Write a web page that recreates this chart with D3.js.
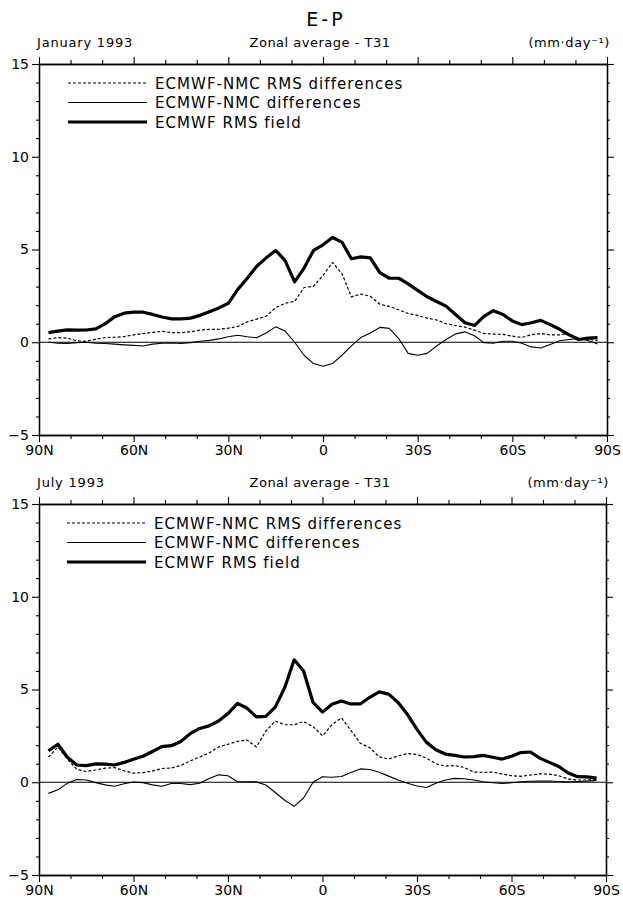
<!DOCTYPE html>
<html>
<head>
<meta charset="utf-8">
<script src="https://cdn.jsdelivr.net/npm/d3@7"></script>
<style>
  html, body { margin: 0; padding: 0; background: #fff; }
  svg { display: block; }
  text { font-family: "DejaVu Sans", "Liberation Sans", sans-serif; fill: #000; }
</style>
</head>
<body>
<svg id="chart" width="623" height="898"></svg>
<script>
// ---- data ----
const lats = [87,84,81,78,75,72,69,66,63,60,57,54,51,48,45,42,39,36,33,30,27,24,21,18,15,12,9,6,3,0,
  -3,-6,-9,-12,-15,-18,-21,-24,-27,-30,-33,-36,-39,-42,-45,-48,-51,-54,-57,-60,-63,-66,-69,-72,-75,-78,-81,-84,-87];

// January 1993
const janRms = [0.52,0.60,0.67,0.65,0.66,0.72,1.00,1.38,1.57,1.62,1.62,1.50,1.36,1.26,1.26,1.30,1.45,1.65,1.85,2.10,
  2.85,3.45,4.10,4.55,4.95,4.40,3.25,4.00,4.95,5.25,5.65,5.40,4.50,4.60,4.55,3.75,3.45,3.45,3.15,2.80,
  2.45,2.20,1.95,1.50,1.05,0.90,1.40,1.70,1.50,1.15,0.95,1.05,1.18,0.95,0.70,0.40,0.15,0.22,0.25];
const janRmsDiff = [0.18,0.25,0.22,0.08,0.05,0.17,0.25,0.27,0.30,0.40,0.47,0.53,0.59,0.52,0.52,0.56,0.66,0.69,0.70,0.76,
  0.85,1.10,1.25,1.40,1.87,2.10,2.20,2.95,3.02,3.60,4.30,3.70,2.45,2.60,2.48,2.05,1.93,1.75,1.55,1.45,
  1.30,1.20,1.00,0.90,0.82,0.65,0.47,0.44,0.42,0.33,0.26,0.40,0.47,0.40,0.40,0.47,0.20,0.15,0.10];
const janDiff = [0.00,-0.05,-0.06,-0.02,0.00,-0.05,-0.07,-0.10,-0.14,-0.17,-0.20,-0.10,-0.05,-0.04,-0.07,-0.02,0.05,0.10,0.18,0.30,
  0.38,0.30,0.24,0.50,0.83,0.60,0.00,-0.70,-1.15,-1.29,-1.15,-0.70,-0.20,0.25,0.50,0.80,0.75,0.20,-0.60,-0.70,
  -0.60,-0.20,0.15,0.45,0.56,0.35,-0.02,-0.05,0.05,0.05,-0.05,-0.25,-0.31,-0.12,0.08,0.15,0.20,0.10,-0.10];

// July 1993
const julRms = [1.70,2.05,1.35,0.93,0.90,0.99,0.98,0.93,1.07,1.24,1.40,1.66,1.92,1.97,2.20,2.62,2.90,3.04,3.30,3.70,
  4.25,4.00,3.52,3.55,4.05,5.10,6.60,6.00,4.30,3.78,4.20,4.38,4.22,4.22,4.58,4.87,4.75,4.30,3.65,2.85,
  2.15,1.75,1.52,1.45,1.36,1.38,1.45,1.35,1.25,1.40,1.60,1.63,1.30,1.07,0.85,0.50,0.30,0.29,0.22];
const julRmsDiff = [1.35,1.90,1.25,0.70,0.58,0.66,0.76,0.79,0.62,0.49,0.52,0.60,0.74,0.77,0.90,1.15,1.36,1.58,1.90,2.05,
  2.20,2.28,1.90,2.75,3.30,3.10,3.10,3.27,3.00,2.50,3.10,3.47,2.80,2.10,1.86,1.37,1.25,1.42,1.55,1.50,
  1.30,1.00,0.87,0.90,0.80,0.55,0.53,0.55,0.45,0.35,0.32,0.39,0.45,0.44,0.35,0.17,0.12,0.12,0.15];
const julDiff = [-0.60,-0.40,-0.06,0.15,0.12,-0.02,-0.14,-0.22,-0.08,0.01,-0.02,-0.14,-0.22,-0.07,-0.07,-0.13,-0.05,0.20,0.40,0.35,
  0.03,0.02,0.02,-0.15,-0.55,-0.97,-1.30,-0.85,0.00,0.30,0.27,0.31,0.52,0.72,0.69,0.54,0.33,0.12,-0.05,-0.20,
  -0.28,-0.05,0.12,0.21,0.19,0.12,0.03,-0.03,-0.07,-0.03,0.02,0.05,0.06,0.07,0.04,0.02,0.04,0.06,0.10];

const xTicks = [90,60,30,0,-30,-60,-90];
const xMinor = [80,70,50,40,20,10,-10,-20,-40,-50,-70,-80];
const yTicks = [-5,0,5,10,15];
const yMinor = [-4,-3,-2,-1,1,2,3,4,6,7,8,9,11,12,13,14];
const legendLabels = ["ECMWF-NMC RMS differences","ECMWF-NMC differences","ECMWF RMS field"];
const title = "E-P";
const subtitle = "Zonal average - T31";
const units = "(mm\u00b7day\u207b\u00b9)";

const panels = [
  {month: "January 1993", rms: janRms, rmsDiff: janRmsDiff, diff: janDiff, top: 64, bottom: 435, left: 39, right: 607, legX: 68, legY: 83},
  {month: "July 1993", rms: julRms, rmsDiff: julRmsDiff, diff: julDiff, top: 504, bottom: 875, left: 39, right: 606, legX: 67, legY: 523}
];

// ---- drawing ----
const svg = d3.select("#chart");
svg.append("text").attr("x", 326).attr("y", 26).attr("text-anchor", "middle")
  .attr("font-size", 19).attr("letter-spacing", 3).text(title);

const latFmt = d => d === 0 ? "0" : (d > 0 ? d + "N" : (-d) + "S");

panels.forEach(p => {
  const x = d3.scaleLinear().domain([90, -90]).range([p.left, p.right]);
  const y = d3.scaleLinear().domain([-5, 15]).range([p.bottom, p.top]);
  const g = svg.append("g");

  // header
  const hy = p.top - 17;
  g.append("text").attr("x", p.left - 2).attr("y", hy).attr("font-size", 13).attr("letter-spacing", 0.8).text(p.month);
  g.append("text").attr("x", 320).attr("y", hy).attr("text-anchor", "middle").attr("font-size", 13).attr("letter-spacing", 0.5).text(subtitle);
  g.append("text").attr("x", p.right + 3).attr("y", hy).attr("text-anchor", "end").attr("font-size", 13).attr("letter-spacing", 0.6).text(units);

  // axes
  const styleAxis = sel => {
    sel.select(".domain").attr("stroke", "#000").attr("stroke-width", 1.3);
    sel.selectAll(".tick line").attr("stroke", "#000").attr("stroke-width", 1.1);
    sel.selectAll(".tick text").attr("font-size", 14).attr("font-family", "DejaVu Sans, sans-serif");
  };
  // bottom
  g.append("g").attr("transform", `translate(0,${p.bottom})`)
    .call(d3.axisBottom(x).tickValues(xTicks).tickSize(7).tickSizeOuter(0).tickPadding(3).tickFormat(latFmt))
    .call(styleAxis);
  g.append("g").attr("transform", `translate(0,${p.bottom})`)
    .call(d3.axisBottom(x).tickValues(xMinor).tickSize(4).tickSizeOuter(0).tickFormat(""))
    .call(styleAxis);
  // top
  g.append("g").attr("transform", `translate(0,${p.top})`)
    .call(d3.axisTop(x).tickValues(xTicks).tickSize(7).tickSizeOuter(0).tickFormat(""))
    .call(styleAxis);
  g.append("g").attr("transform", `translate(0,${p.top})`)
    .call(d3.axisTop(x).tickValues(xMinor).tickSize(4).tickSizeOuter(0).tickFormat(""))
    .call(styleAxis);
  // left
  g.append("g").attr("transform", `translate(${p.left},0)`)
    .call(d3.axisLeft(y).tickValues(yTicks).tickSize(7).tickSizeOuter(0).tickPadding(3).tickFormat(d3.format("d")))
    .call(styleAxis);
  g.append("g").attr("transform", `translate(${p.left},0)`)
    .call(d3.axisLeft(y).tickValues(yMinor).tickSize(3).tickSizeOuter(0).tickFormat(""))
    .call(styleAxis);
  // right
  g.append("g").attr("transform", `translate(${p.right},0)`)
    .call(d3.axisRight(y).tickValues(yTicks).tickSize(7).tickSizeOuter(0).tickFormat(""))
    .call(styleAxis);
  g.append("g").attr("transform", `translate(${p.right},0)`)
    .call(d3.axisRight(y).tickValues(yMinor).tickSize(3).tickSizeOuter(0).tickFormat(""))
    .call(styleAxis);

  // zero line
  g.append("line").attr("x1", p.left).attr("x2", p.right).attr("y1", y(0)).attr("y2", y(0))
    .attr("stroke", "#000").attr("stroke-width", 1.2);

  const line = d3.line().x((d, i) => x(lats[i])).y(d => y(d));
  const series = [
    {vals: p.rmsDiff, w: 1.2, dash: "3,2"},
    {vals: p.diff, w: 1.1, dash: null},
    {vals: p.rms, w: 3.2, dash: null}
  ];
  series.forEach(s => {
    g.append("path").datum(s.vals).attr("d", line).attr("fill", "none")
      .attr("stroke", "#000").attr("stroke-width", s.w)
      .attr("stroke-linejoin", "round")
      .attr("stroke-dasharray", s.dash);
  });

  // legend
  series.forEach((s, i) => {
    const ly = p.legY + i * 19.5;
    g.append("line").attr("x1", p.legX).attr("x2", p.legX + 79).attr("y1", ly).attr("y2", ly)
      .attr("stroke", "#000").attr("stroke-width", s.w).attr("stroke-dasharray", s.dash);
    g.append("text").attr("x", p.legX + 87).attr("y", ly + 5.5).attr("font-size", 15)
      .attr("letter-spacing", 1.05).text(legendLabels[i]);
  });
});
</script>
</body>
</html>
